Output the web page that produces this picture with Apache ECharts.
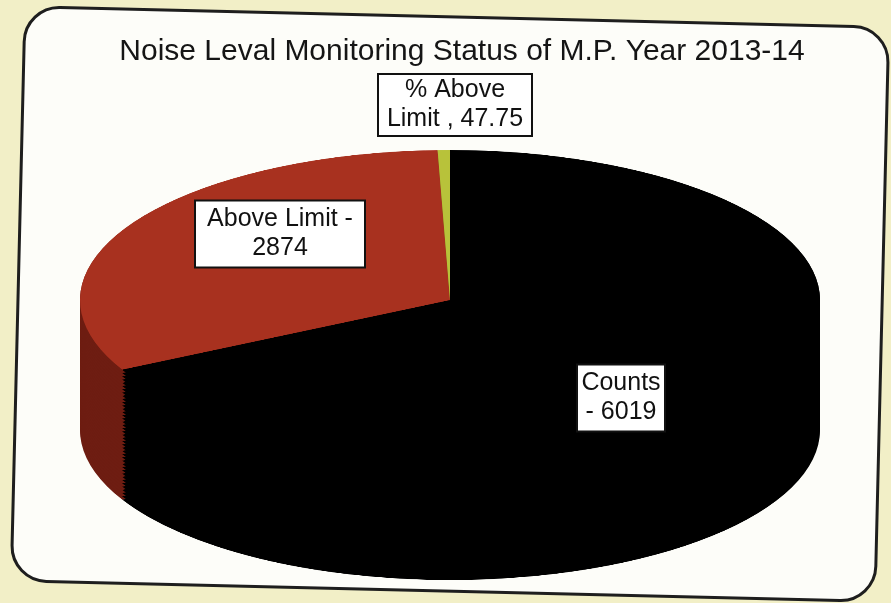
<!DOCTYPE html>
<html><head><meta charset="utf-8">
<script src="https://cdn.jsdelivr.net/npm/echarts@6/dist/echarts.min.js"></script>
<style>
html,body{margin:0;padding:0;width:891px;height:603px;overflow:hidden;background:#f2efc7;}
#wrap{position:relative;width:891px;height:603px;overflow:hidden;}
#bg,#fg{position:absolute;left:0;top:0;width:891px;height:603px;}
#pie{position:absolute;left:0;width:891px;height:1300px;}
</style></head><body>
<div id="wrap"><div id="bg"></div><div id="pie"></div><div id="fg"></div></div>
<script>
// ---- data ----
const titleText = 'Noise Leval Monitoring Status of M.P. Year 2013-14';
const categories = ['Counts', 'Above Limit', '% Above Limit'];
const values = [6019, 2874, 47.75];
const labelTemplates = ['Counts\n- {v}', 'Above Limit -\n{v}', '% Above\nLimit , {v}'];

// ---- style / layout ----
const topColors = ['#000000', '#a8311f', '#b8c23a'];
const sideColors = ['#000000', '#6e1d12', '#7f8a22'];
const labelBoxes = [[621, 398, 88, 67], [280, 234, 170, 67], [455, 105, 154, 62]];
const FONT = '"Liberation Sans", Arial, sans-serif';

// pie geometry: chart div is squashed vertically by CSS
const SCREEN_CY = 300;          // screen y of top-face centre
const CX = 450, CYU = 420, R = 370, RY = 150, DEPTH_PX = 130;
const S = RY / R;
const DEPTH = DEPTH_PX / S;
const pieDiv = document.getElementById('pie');
pieDiv.style.top = (SCREEN_CY - CYU) + 'px';
pieDiv.style.transformOrigin = CX + 'px ' + CYU + 'px';
pieDiv.style.transform = 'scaleY(' + S + ')';

// background layer
const bg = echarts.init(document.getElementById('bg'));
bg.setOption({
  animation: false,
  backgroundColor: '#f2efc7',
  title: {
    text: titleText, left: 457, top: 32, textAlign: 'center',
    textStyle: {fontFamily: FONT, fontSize: 30, fontWeight: 'normal', color: '#151515'}
  },
  graphic: [{
    type: 'rect', z: -10, originX: 450, originY: 304, rotation: -0.024,
    shape: {x: 18, y: 17, width: 864, height: 574, r: 35},
    style: {fill: '#fdfdf9', stroke: '#1e1e1e', lineWidth: 3}
  }]
});

// pie layer
const pie = echarts.init(pieDiv);
function pieSeries(dy, colors) {
  return {
    type: 'pie', silent: true, animation: false,
    center: [CX, CYU + dy], radius: [0, R],
    startAngle: 90, clockwise: true, avoidLabelOverlap: false,
    label: {show: false}, labelLine: {show: false},
    itemStyle: {borderWidth: 0},
    emphasis: {disabled: true},
    data: categories.map((c, i) => ({name: c, value: values[i], itemStyle: {color: colors[i]}}))
  };
}
const series = [];
for (let d = DEPTH; d > 0; d -= 8) series.push(pieSeries(d, sideColors));
series.push(pieSeries(0, topColors));
pie.setOption({animation: false, series: series});

// label layer
const fg = echarts.init(document.getElementById('fg'));
fg.setOption({
  animation: false,
  graphic: categories.map((c, i) => {
    const b = labelBoxes[i];
    return {
      type: 'group',
      children: [
        {type: 'rect', shape: {x: b[0] - b[2] / 2, y: b[1] - b[3] / 2, width: b[2], height: b[3]},
         style: {fill: '#ffffff', stroke: '#111111', lineWidth: 2}},
        {type: 'text', x: b[0], y: b[1],
         style: {text: labelTemplates[i].replace('{v}', String(values[i])),
                 font: '25px ' + FONT, fill: '#111111', lineHeight: 29,
                 align: 'center', verticalAlign: 'middle',
                 textAlign: 'center', textVerticalAlign: 'middle'}}
      ]
    };
  })
});
</script>
</body></html>
